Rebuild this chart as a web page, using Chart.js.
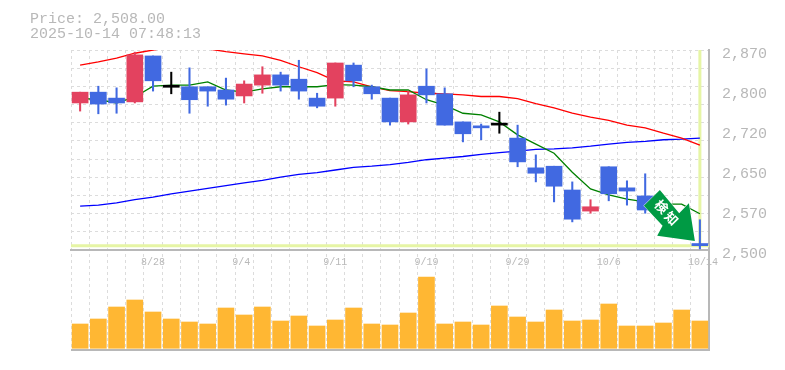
<!DOCTYPE html>
<html>
<head>
<meta charset="utf-8">
<style>html,body{margin:0;padding:0;background:#fff}canvas{display:block}</style>
<script src="https://cdn.jsdelivr.net/npm/chart.js@4"></script>
</head>
<body>
<canvas id="c" width="785" height="370"></canvas>
<script>
const dates = ['8/22','8/25','8/26','8/27','8/28','8/29','9/1','9/2','9/3','9/4','9/5','9/8','9/9','9/10','9/11','9/12','9/16','9/17','9/18','9/19','9/22','9/24','9/25','9/26','9/29','9/30','10/1','10/2','10/3','10/6','10/7','10/8','10/9','10/10','10/14'];
const opens  = [2772,2792,2781,2774,2859,2801,2802,2802,2796,2785,2805,2824,2816,2781,2781,2842,2802,2781,2737,2803,2789,2737,2729,2731,2707,2652,2655,2611,2572,2654,2615,2600,2583,2567,2512];
const closes = [2792,2770,2772,2861,2813,2801,2778,2794,2779,2807,2824,2805,2794,2766,2846,2813,2789,2737,2787,2787,2731,2715,2726,2731,2663,2642,2618,2557,2580,2604,2609,2574,2565,2546,2508];
const highs  = [2792,2803,2800,2866,2859,2829,2837,2802,2818,2813,2839,2829,2851,2790,2846,2846,2805,2781,2794,2835,2800,2737,2733,2755,2731,2676,2655,2626,2593,2654,2628,2641,2589,2570,2556];
const lows   = [2757,2752,2753,2772,2794,2789,2753,2766,2768,2772,2790,2794,2779,2763,2766,2802,2779,2731,2733,2772,2731,2700,2704,2716,2654,2626,2589,2552,2568,2591,2583,2568,2552,2533,2502];
const maShort = [2781,2778,2772,2783,2803,2805,2805,2811,2796,2792,2798,2802,2802,2802,2806,2805,2802,2796,2796,2778,2768,2753,2750,2737,2713,2696,2679,2644,2613,2602,2594,2589,2585,2585,2567];
const maMid   = [2842,2848,2855,2864,2870,2875,2876,2872,2867,2863,2859,2851,2839,2828,2813,2811,2802,2795,2793,2790,2789,2787,2784,2784,2780,2771,2763,2753,2746,2740,2731,2726,2716,2707,2694];
const maLong  = [2581,2583,2587,2593,2598,2604,2609,2614,2619,2624,2629,2635,2640,2643,2648,2653,2655,2658,2662,2667,2670,2673,2677,2680,2683,2686,2687,2689,2692,2696,2699,2701,2704,2705,2707];
const volumes = [243,293,413,483,363,293,263,243,403,333,413,273,323,223,283,403,243,233,353,713,243,263,233,423,313,263,383,273,283,443,223,223,253,383,273];
const priceTicks = [2870,2796,2722,2648,2574,2500];
const priceTickLabels = ['2,870','2,800','2,720','2,650','2,570','2,500'];
const gridTicks = [2870,2836.4,2802.7,2769.1,2735.5,2701.8,2668.2,2634.5,2600.9,2567.3,2533.6,2500,2315];
const lastPrice = 2508;
const headerLines = ['Price: 2,508.00','2025-10-14 07:48:13'];
const signalText = ['検','知'];

const RED='#e3425f', BLUE='#4169e1', BLACK='#000000', GREY='#b8b8b8', GRIDC='#dcdcdc', YEL='#e6f5a5';
const MONO='"Liberation Mono","DejaVu Sans Mono",monospace';
const col = (o,c)=> c>o?RED:(c<o?BLUE:BLACK);
const candleColors = opens.map((o,i)=>col(o,closes[i]));

const overlay = {
  id:'overlay',
  beforeDatasetsDraw(ch){
    const {ctx,chartArea:a,scales:s}=ch;
    const lx=s.x.getPixelForValue(dates.length-1), ly=s.price.getPixelForValue(lastPrice), base=s.price.getPixelForValue(2500);
    ctx.save();
    ctx.strokeStyle=YEL; ctx.lineWidth=3;
    ctx.beginPath();
    ctx.moveTo(a.left,ly); ctx.lineTo(a.right,ly);
    ctx.moveTo(lx,a.top); ctx.lineTo(lx,base-3);
    ctx.stroke();
    ctx.restore();
  },
  afterDatasetsDraw(ch){
    const {ctx,scales:s}=ch;
    const lx=s.x.getPixelForValue(dates.length-1), ly=s.price.getPixelForValue(lastPrice);
    ctx.save();
    ctx.translate(lx,ly);
    ctx.beginPath();
    [[-40,-55.7],[-56,-40],[-37.3,-20],[-42.7,-10],[-5,-4.7],[-11,-42.4],[-20.7,-32.4]].forEach((p,i)=>i?ctx.lineTo(p[0],p[1]):ctx.moveTo(p[0],p[1]));
    ctx.closePath();
    ctx.fillStyle='#009a44'; ctx.strokeStyle='#ffffff'; ctx.lineWidth=1;
    ctx.stroke(); ctx.fill();
    ctx.fillStyle='#ffffff';
    ctx.font='bold 13px "Noto Sans CJK JP"';
    ctx.textAlign='center'; ctx.textBaseline='middle';
    [[-38.3,-39],[-28.3,-27.4]].forEach((p,i)=>{
      ctx.save(); ctx.translate(p[0],p[1]); ctx.rotate(Math.PI/4);
      ctx.fillText(signalText[i],0,0); ctx.restore();
    });
    ctx.restore();
  },
  afterDraw(ch){
    const {ctx}=ch;
    ctx.save();
    ctx.fillStyle=GREY; ctx.font='15px '+MONO; ctx.textAlign='left'; ctx.textBaseline='alphabetic';
    ctx.fillText(headerLines[0],30,23);
    ctx.fillText(headerLines[1],30,38);
    ctx.restore();
  }
};

new Chart(document.getElementById('c'),{
  type:'bar',
  plugins:[overlay],
  data:{labels:dates,datasets:[
    {label:'Open-Close',data:opens.map((o,i)=>[o,closes[i]]),yAxisID:'price',backgroundColor:candleColors,barThickness:16,minBarLength:2,grouped:false,order:1},
    {label:'High-Low',data:lows.map((l,i)=>[l,highs[i]]),yAxisID:'price',backgroundColor:candleColors,barThickness:1.4,grouped:false,order:2},
    {type:'line',label:'MA short',data:maShort,yAxisID:'price',borderColor:'#008000',borderWidth:1.3,pointRadius:0,tension:0,order:3},
    {type:'line',label:'MA mid',data:maMid,yAxisID:'price',borderColor:'#ff0000',borderWidth:1.3,pointRadius:0,tension:0,order:4},
    {type:'line',label:'MA long',data:maLong,yAxisID:'price',borderColor:'#0000ff',borderWidth:1.3,pointRadius:0,tension:0,order:5},
    {label:'Volume',data:volumes,yAxisID:'vol',backgroundColor:'#ffb733',barThickness:16,grouped:false,order:6}
  ]},
  options:{
    responsive:false,animation:false,
    layout:{padding:{top:50,bottom:20,left:0,right:0}},
    plugins:{legend:{display:false},tooltip:{enabled:false},title:{display:false}},
    scales:{
      x:{
        type:'category',offset:true,position:{price:2500},
        grid:{display:true,offset:true,color:GRIDC,lineWidth:1,drawTicks:false},
        border:{display:true,color:GREY,width:2,dash:[3,3]},
        ticks:{autoSkip:false,maxRotation:0,minRotation:0,align:'start',labelOffset:-12,padding:6,color:GREY,font:{family:MONO,size:10},
          callback:(v,i)=>i%5===4?dates[i]:''}
      },
      price:{
        position:'right',min:2315,max:2870,
        afterBuildTicks:s=>{s.ticks=priceTicks.map(v=>({value:v}));},
        afterFit:s=>{s.width=76;s.paddingTop=0;s.paddingBottom=0;},
        grid:{display:false,drawTicks:false},
        border:{display:true,color:GREY,width:2},
        ticks:{autoSkip:false,align:'center',labelOffset:4,padding:13,color:GREY,font:{family:MONO,size:15},
          callback:(v,i)=>priceTickLabels[i]}
      },
      gridY:{
        position:'left',min:2315,max:2870,
        afterBuildTicks:s=>{s.ticks=gridTicks.map(v=>({value:v}));},
        afterFit:s=>{s.width=71;},
        grid:{display:true,drawTicks:false,lineWidth:c=>c.tick&&c.tick.value===2315?2:1,color:c=>c.tick&&c.tick.value===2315?GREY:GRIDC},
        border:{display:false,dash:c=>c.tick&&c.tick.value===2315?[]:[3,3]},
        ticks:{display:false}
      },
      vol:{display:false,min:-17,max:2983}
    }
  }
});
</script>
</body>
</html>
